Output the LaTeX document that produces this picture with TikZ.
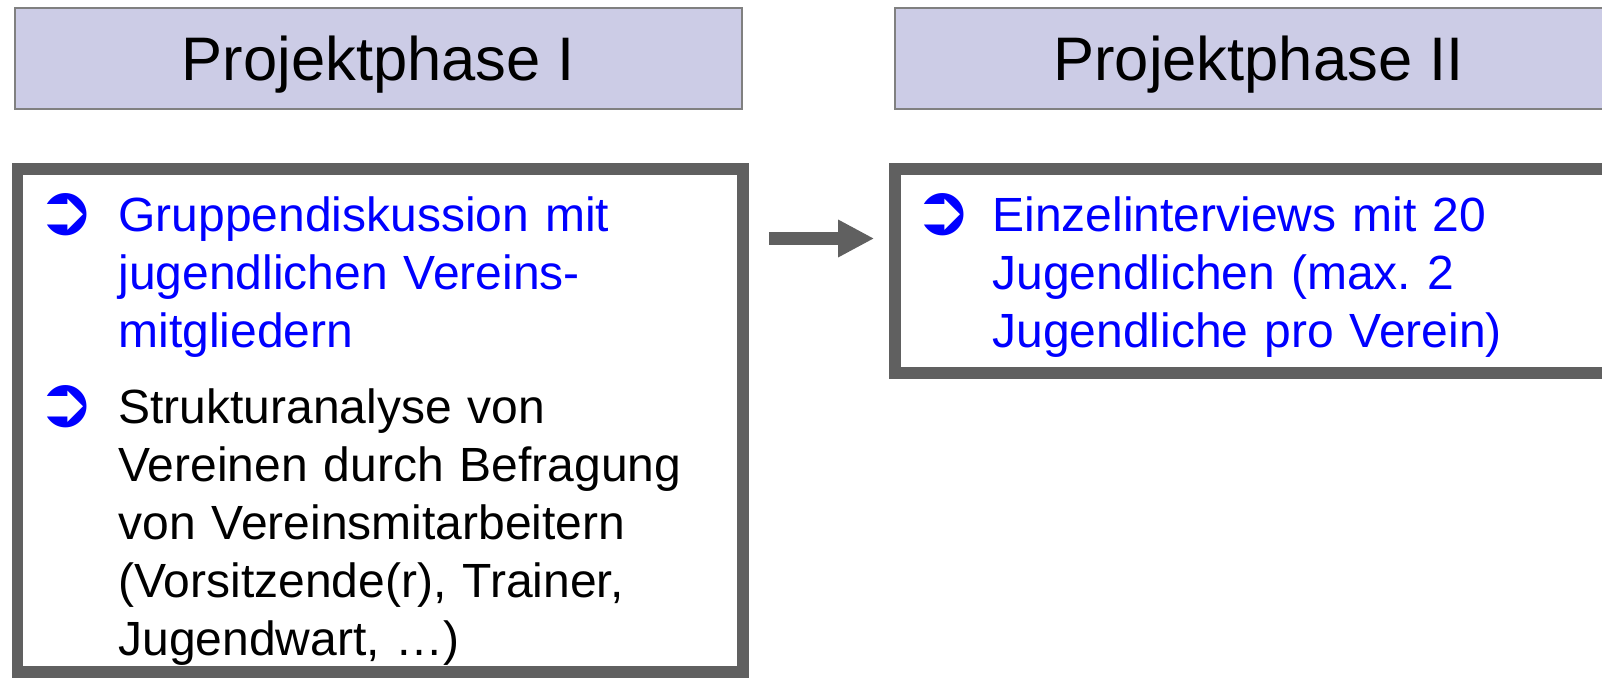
\documentclass[tikz,border=0pt]{standalone}
\usepackage{fontspec}
\setmainfont{Liberation Sans}
\newfontfamily\symbolfont{DejaVu Sans}
\usetikzlibrary{arrows.meta, positioning}
\definecolor{phasefill}{HTML}{CCCCE6}
\definecolor{phaseline}{HTML}{808080}
\definecolor{stageline}{HTML}{606060}
\definecolor{itemblue}{HTML}{0000FF}

\begin{document}
\begin{tikzpicture}[x=0.5pt, y=-0.5pt,
    phase/.style={rectangle, draw=phaseline, line width=0.75pt, fill=phasefill,
                  minimum width=363.5pt, minimum height=50.5pt, inner sep=0pt,
                  text height=22.2pt, text depth=0pt,
                  font=\fontsize{30.75pt}{36pt}\selectfont},
    stage/.style={rectangle, draw=stageline, line width=5.8pt, inner sep=0pt},
    item/.style={anchor=base west, inner sep=0pt, text width=340pt, align=left,
                 font=\fontsize{24pt}{29pt}\selectfont\frenchspacing},
    bullet/.style={anchor=base west, inner sep=0pt, text=itemblue,
                   font=\symbolfont\fontsize{35pt}{35pt}\selectfont},
    flow/.style={-{Triangle[length=18pt, width=17.5pt]}, draw=stageline,
                 line width=6.5pt, shorten <=10pt, shorten >=7.5pt},
]
\clip (0,0) rectangle (1602,678);

% Kopfzeilen
\node[phase] (phaseA) at (378.5,58.5)  {Projektphase I};
\node[phase] (phaseB) at (1258.5,58.5) {Projektphase II};

% Rahmen
\node[stage, minimum width=362.75pt, minimum height=251.5pt] (stageA) at (380.25,420.5) {};
\node[stage, minimum width=357.5pt, minimum height=102pt]   (stageB) at (1252.5,271)   {};

% Phase I
\node[bullet] (bulA1) at (36,235) {➲};
\node[item, text=itemblue] (itemA1) at (118,232)
    {Gruppendiskussion mit\\jugendlichen Vereins-\\mitgliedern};
\node[bullet] (bulA2) at (36,427) {➲};
\node[item] (itemA2) at (118,424)
    {Strukturanalyse von\\Vereinen durch Befragung\\von Vereinsmitarbeitern\\(Vorsitzende(r), Trainer,\\Jugendwart, …)};

% Phase II
\node[bullet] (bulB1) at (913,235) {➲};
\node[item, text=itemblue] (itemB1) at (992,232)
    {Einzelinterviews mit 20\\Jugendlichen (max. 2\\Jugendliche pro Verein)};

\draw[flow] ([yshift=16.25pt]stageB.west -| stageA.east) -- ([yshift=16.25pt]stageB.west);
\end{tikzpicture}
\end{document}
